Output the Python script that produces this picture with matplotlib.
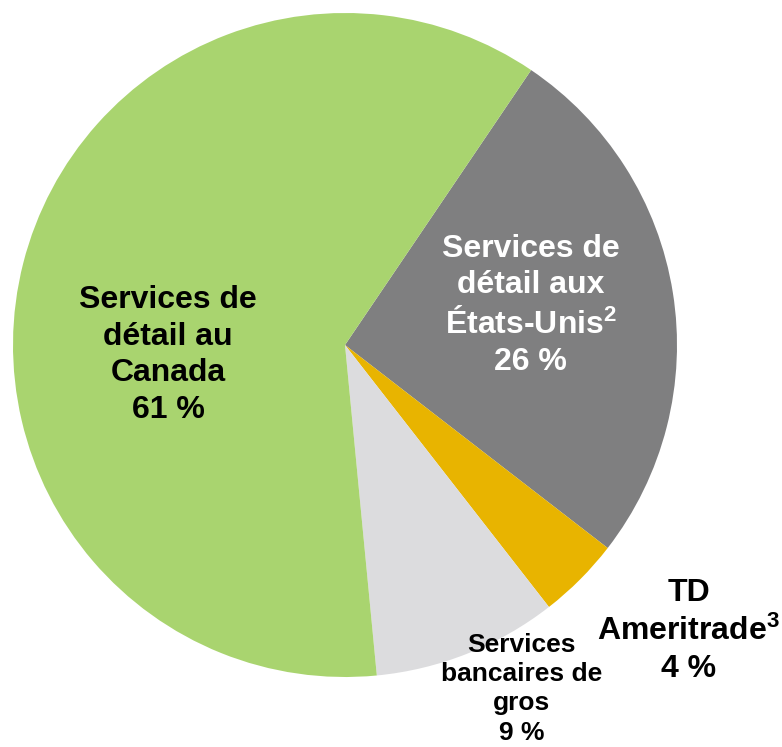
import matplotlib
matplotlib.use("Agg")
import matplotlib.pyplot as plt

labels = ["Services de\ndétail au\nCanada\n61 %",
          "Services de\ndétail aux\nÉtats-Unis$^{2}$\n26 %",
          "TD\nAmeritrade$^{3}$\n4 %",
          "Services\nbancaires de\ngros\n9 %"]
values = [61, 26, 4, 9]
colors = ["#A9D46F", "#7F7F80", "#E8B400", "#DCDCDE"]

plt.rcParams['font.family'] = ['Liberation Sans', 'DejaVu Sans']
plt.rcParams['mathtext.fontset'] = 'custom'
plt.rcParams['mathtext.rm'] = 'Liberation Sans:bold'
plt.rcParams['mathtext.bf'] = 'Liberation Sans:bold'
plt.rcParams['mathtext.default'] = 'rm'

fig = plt.figure(figsize=(7.82, 7.47), dpi=100)
ax = fig.add_axes([0, 0, 1, 1])
order = [1, 2, 3, 0]
ax.pie([values[i] for i in order], colors=[colors[i] for i in order],
       startangle=55.9, counterclock=False, radius=1.0, center=(0, 0),
       wedgeprops=dict(linewidth=0))
ax.set_xlim(-345/332, 437/332)
ax.set_ylim(-402/332, 345/332)
ax.set_aspect('equal')
ax.axis('off')

ax.text(-0.533, -0.03, labels[0], ha='center', va='center', fontsize=23,
        fontweight='bold', color='black', linespacing=1.3)
ax.text(0.56, 0.12, labels[1], ha='center', va='center', fontsize=23,
        fontweight='bold', color='white', linespacing=1.3)
ax.text(1.035, -0.862, labels[2], ha='center', va='center', fontsize=23,
        fontweight='bold', color='black', linespacing=1.3)
ax.text(0.533, -1.035, labels[3], ha='center', va='center', fontsize=19,
        fontweight='bold', color='black', linespacing=1.28)

fig.savefig("out.png", dpi=100)
